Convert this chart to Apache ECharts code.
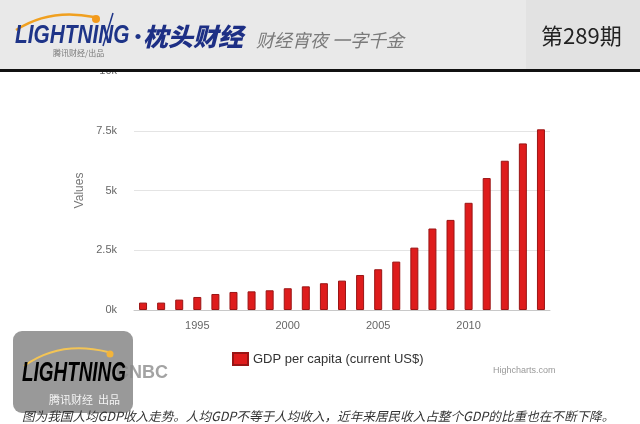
<!DOCTYPE html>
<html>
<head>
<meta charset="utf-8">
<script src="https://cdn.jsdelivr.net/npm/echarts@6/dist/echarts.min.js"></script>
<style>
  html, body { margin: 0; padding: 0; background: #fff; }
  #main { width: 640px; height: 424px; }
</style>
</head>
<body>
<div id="main"></div>
<script>
// data
const years = ['1992', '1993', '1994', '1995', '1996', '1997', '1998', '1999', '2000', '2001', '2002', '2003',
    '2004', '2005', '2006', '2007', '2008', '2009', '2010', '2011', '2012', '2013', '2014'];
const gdpPerCapita = [310, 310, 435, 545, 670, 755, 780, 825, 910, 990, 1120, 1230,
    1465, 1705, 2025, 2610, 3410, 3770, 4485, 5520, 6245, 6970, 7560];
const seriesName = 'GDP per capita (current US$)';
const caption = '图为我国人均GDP收入走势。人均GDP不等于人均收入，近年来居民收入占整个GDP的比重也在不断下降。';

const cjk = '"Noto Sans CJK SC", sans-serif';
const latin = '"Liberation Sans", Arial, sans-serif';

// header + watermark + caption, drawn on top of the chart
const headerGraphics = [
    { type: 'rect', z: 100, shape: { x: 0, y: 0, width: 640, height: 69 }, style: { fill: '#e9e9e9' } },
    { type: 'rect', z: 100, shape: { x: 526, y: 0, width: 114, height: 69 }, style: { fill: '#e2e2e2' } },
    { type: 'rect', z: 100, shape: { x: 0, y: 69, width: 640, height: 3 }, style: { fill: '#111' } },
    // logo
    { type: 'bezierCurve', z: 101, shape: { x1: 16, y1: 30, x2: 94, y2: 17, cpx1: 50, cpy1: 8 },
        style: { stroke: '#f0a020', lineWidth: 2.5, fill: null } },
    { type: 'circle', z: 101, shape: { cx: 96, cy: 19, r: 4 }, style: { fill: '#f39a1c' } },
    { type: 'text', z: 102, x: 15, y: 36, scaleX: 0.8,
        style: { text: 'LIGHTNING', font: 'italic bold 26px ' + latin, fill: '#1e3488', verticalAlign: 'middle' } },
    { type: 'line', z: 102, shape: { x1: 113, y1: 13, x2: 103, y2: 46 }, style: { stroke: '#1e3488', lineWidth: 1.5 } },
    { type: 'text', z: 102, x: 53, y: 53,
        style: { text: '腾讯财经/出品', font: '8px ' + cjk, fill: '#777', verticalAlign: 'middle' } },
    { type: 'text', z: 102, x: 128, y: 36,
        style: { text: '·', font: 'bold 20px ' + cjk, fill: '#1e3488', verticalAlign: 'middle' } },
    { type: 'text', z: 102, x: 143, y: 36,
        style: { text: '枕头财经', font: 'italic 900 25px ' + cjk, fill: '#1d2f85', verticalAlign: 'middle' } },
    { type: 'text', z: 102, x: 256, y: 40,
        style: { text: '财经宵夜 一字千金', font: 'italic 18px ' + cjk, fill: '#7a7a7a', verticalAlign: 'middle' } },
    { type: 'text', z: 102, x: 541, y: 36,
        style: { text: '第289期', font: '22px ' + cjk, fill: '#222', verticalAlign: 'middle' } },

    // source logo remnant and credits
    { type: 'text', z: 50, x: 168, y: 373,
        style: { text: 'CNBC', font: 'bold 18px ' + latin, fill: '#a3a3a3', align: 'right', verticalAlign: 'middle' } },
    { type: 'text', z: 50, x: 493, y: 371,
        style: { text: 'Highcharts.com', font: '9px ' + latin, fill: '#999', verticalAlign: 'middle' } },

    // watermark
    { type: 'rect', z: 100, shape: { x: 13, y: 331, width: 120, height: 82, r: 9 },
        style: { fill: 'rgba(135,135,135,0.85)' } },
    { type: 'bezierCurve', z: 101, shape: { x1: 24, y1: 366, x2: 108, y2: 352, cpx1: 60, cpy1: 340 },
        style: { stroke: '#f3c455', lineWidth: 2, fill: null } },
    { type: 'circle', z: 101, shape: { cx: 110, cy: 354, r: 3.5 }, style: { fill: '#f3b43a' } },
    { type: 'text', z: 102, x: 22, y: 374, scaleX: 0.7,
        style: {
            text: 'LIGHTNING', font: 'italic bold 27px ' + latin, verticalAlign: 'middle',
            fill: new echarts.graphic.LinearGradient(0, 0, 0, 1, [
                { offset: 0, color: '#ffffff' }, { offset: 0.5, color: '#ffffff' }, { offset: 0.55, color: '#f2d27a' }, { offset: 1, color: '#e8c050' }])
        } },
    { type: 'text', z: 102, x: 49, y: 400,
        style: { text: '腾讯财经  出品', font: '11px ' + cjk, fill: '#f4f4f4', verticalAlign: 'middle' } },

    // caption
    { type: 'text', z: 101, x: 22, y: 416,
        style: { text: caption, font: 'italic 12.6px ' + cjk, fill: '#333', verticalAlign: 'middle' } }
];

const every5 = function (index, value) {
    return Number(value) % 5 === 0;
};

const option = {
    backgroundColor: '#fff',
    animation: false,
    grid: { left: 134, right: 90, top: 71, bottom: 114 },
    legend: {
        data: [seriesName],
        left: 227, top: 347,
        itemWidth: 15, itemHeight: 12,
        icon: 'rect',
        textStyle: { fontSize: 13, color: '#333', fontFamily: latin }
    },
    xAxis: {
        type: 'category',
        data: years,
        axisLine: { lineStyle: { color: '#c8c8c8' } },
        axisTick: { alignWithLabel: true, interval: every5, length: 10, lineStyle: { color: '#c8c8c8' } },
        axisLabel: { interval: every5, color: '#666', fontSize: 11, margin: 10, fontFamily: latin }
    },
    yAxis: {
        type: 'value',
        min: 0, max: 10000, interval: 2500,
        name: 'Values',
        nameLocation: 'middle',
        nameGap: 43,
        nameRotate: 90,
        nameTextStyle: { color: '#777', fontSize: 12, fontFamily: latin },
        axisLabel: {
            color: '#666', fontSize: 11, margin: 17, fontFamily: latin,
            formatter: v => (v / 1000) + 'k'
        },
        splitLine: { lineStyle: { color: '#e4e4e4' } }
    },
    series: [
        {
            name: seriesName,
            type: 'bar',
            data: gdpPerCapita,
            barWidth: 8,
            itemStyle: { color: '#de1c1c', borderColor: '#9a1515', borderWidth: 1 }
        }
    ],
    graphic: headerGraphics
};

var myChart = echarts.init(document.getElementById('main'));
myChart.setOption(option);
</script>
</body>
</html>
